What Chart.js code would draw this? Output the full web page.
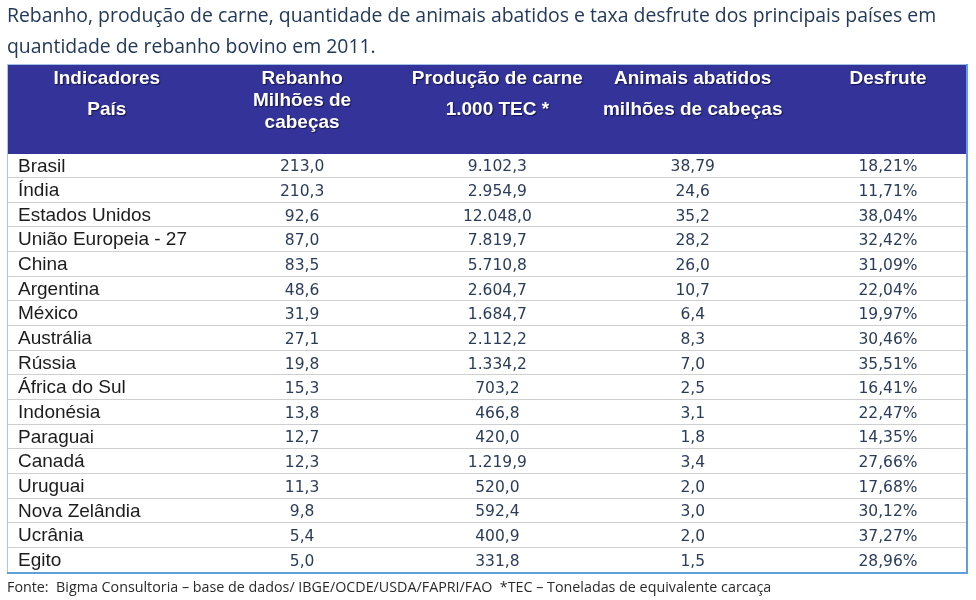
<!DOCTYPE html>
<html>
<head>
<meta charset="utf-8">
<script src="https://cdn.jsdelivr.net/npm/chart.js@4/dist/chart.umd.min.js"></script>
<style>
  body { margin: 0; background: #fff; }
</style>
</head>
<body>
<canvas id="tabela" width="976" height="600"></canvas>
<script>
const titulo = ['Rebanho, produção de carne, quantidade de animais abatidos e taxa desfrute dos principais países em',
  'quantidade de rebanho bovino em 2011.']
const fonte = 'Fonte:  Bigma Consultoria – base de dados/ IBGE/OCDE/USDA/FAPRI/FAO  *TEC – Toneladas de equivalente carcaça'

const cabecalho = [
  ['Indicadores', 'País'],
  ['Rebanho', 'Milhões de', 'cabeças'],
  ['Produção de carne', '1.000 TEC *'],
  ['Animais abatidos', 'milhões de cabeças'],
  ['Desfrute']
]

const paises = ['Brasil', 'Índia', 'Estados Unidos', 'União Europeia - 27', 'China', 'Argentina', 'México',
  'Austrália', 'Rússia', 'África do Sul', 'Indonésia', 'Paraguai', 'Canadá', 'Uruguai', 'Nova Zelândia',
  'Ucrânia', 'Egito']
const rebanho = [213.0, 210.3, 92.6, 87.0, 83.5, 48.6, 31.9, 27.1, 19.8, 15.3, 13.8, 12.7, 12.3, 11.3, 9.8, 5.4, 5.0]
const producao = [9102.3, 2954.9, 12048.0, 7819.7, 5710.8, 2604.7, 1684.7, 2112.2, 1334.2, 703.2, 466.8, 420.0,
  1219.9, 520.0, 592.4, 400.9, 331.8]
const abatidos = [38.79, 24.6, 35.2, 28.2, 26.0, 10.7, 6.4, 8.3, 7.0, 2.5, 3.1, 1.8, 3.4, 2.0, 3.0, 2.0, 1.5]
const desfrute = [18.21, 11.71, 38.04, 32.42, 31.09, 22.04, 19.97, 30.46, 35.51, 16.41, 22.47, 14.35, 27.66,
  17.68, 30.12, 37.27, 28.96]

// formato brasileiro: 12.048,0
function fmt(v, minDec) {
  let s = v.toFixed(2)
  if (minDec < 2 && s.endsWith('0')) s = v.toFixed(1)
  let [inteiro, dec] = s.split('.')
  inteiro = inteiro.replace(/\B(?=(\d{3})+(?!\d))/g, '.')
  return inteiro + ',' + dec
}

const colunas = [
  paises,
  rebanho.map(v => fmt(v, 1)),
  producao.map(v => fmt(v, 1)),
  abatidos.map(v => fmt(v, 1)),
  desfrute.map(v => fmt(v, 2) + '%')
]

const datasets = colunas.map((textos, c) => ({
  label: cabecalho[c][0],
  data: paises.map(p => ({ x: c, y: p })),
  textos,
  pointRadius: 0
}))

function ajustar(ctx, texto, familia, largura) {
  ctx.font = '20px ' + familia
  const w = ctx.measureText(texto).width
  return (20 * largura / w).toFixed(2) + 'px ' + familia
}

const desenhaTabela = {
  id: 'desenhaTabela',
  beforeDatasetsDraw(chart) {
    const { ctx, chartArea: a, scales } = chart
    ctx.save()
    // titulo
    ctx.fillStyle = '#22395a'
    ctx.textBaseline = 'middle'
    ctx.textAlign = 'left'
    ctx.font = ajustar(ctx, titulo[0], '"Open Sans"', 930)
    ctx.fillText(titulo[0], 7, 16)
    ctx.fillText(titulo[1], 7, 47)

    // faixa do cabecalho
    const topo = 64
    ctx.fillStyle = '#333399'
    ctx.fillRect(a.left, topo, a.right - a.left, a.top - topo + 1)
    ctx.strokeStyle = '#9fc0e4'
    ctx.lineWidth = 1
    ctx.beginPath()
    ctx.moveTo(a.left, topo + 0.5)
    ctx.lineTo(a.right, topo + 0.5)
    ctx.stroke()

    ctx.fillStyle = '#ffffff'
    ctx.textAlign = 'center'
    ctx.textBaseline = 'alphabetic'
    ctx.font = 'bold 19px "Liberation Sans", Arial, sans-serif'
    ctx.shadowColor = 'rgba(0,0,30,0.6)'
    ctx.shadowOffsetX = 1
    ctx.shadowOffsetY = 1
    ctx.shadowBlur = 1
    cabecalho.forEach((linhas, c) => {
      const x = scales.x.getPixelForValue(c)
      const passo = linhas.length === 3 ? 22 : 31
      linhas.forEach((t, k) => ctx.fillText(t, x, 84 + k * passo))
    })
    ctx.restore()
  },
  afterDatasetsDraw(chart) {
    const { ctx, chartArea: a } = chart
    ctx.save()
    ctx.textBaseline = 'middle'
    chart.data.datasets.forEach((ds, d) => {
      const meta = chart.getDatasetMeta(d)
      meta.data.forEach((pt, i) => {
        if (d === 0) {
          ctx.textAlign = 'left'
          ctx.fillStyle = '#1c1c1c'
          ctx.font = '19px "Liberation Sans", Arial, sans-serif'
          ctx.fillText(ds.textos[i], a.left + 11, pt.y + 1)
        } else {
          ctx.textAlign = 'center'
          ctx.fillStyle = '#2b3c5a'
          ctx.font = '15.5px "DejaVu Sans", sans-serif'
          ctx.fillText(ds.textos[i], pt.x, pt.y + 2)
        }
      })
    })

    // bordas
    ctx.strokeStyle = '#a8c8ea'
    ctx.lineWidth = 1
    ctx.beginPath()
    ctx.moveTo(a.left + 0.5, 64)
    ctx.lineTo(a.left + 0.5, a.bottom)
    ctx.stroke()
    ctx.strokeStyle = '#5f9fdb'
    ctx.lineWidth = 2
    ctx.beginPath()
    ctx.moveTo(a.right, 64)
    ctx.lineTo(a.right, a.bottom + 1)
    ctx.lineTo(a.left, a.bottom + 1)
    ctx.stroke()

    // fonte
    ctx.fillStyle = '#2a2a2a'
    ctx.textAlign = 'left'
    ctx.font = ajustar(ctx, fonte, '"Open Sans"', 765)
    ctx.fillText(fonte, 7, 588)
    ctx.restore()
  }
}

new Chart(document.getElementById('tabela'), {
  type: 'scatter',
  data: { datasets },
  options: {
    responsive: false,
    animation: false,
    events: [],
    layout: { padding: { left: 7, right: 9, top: 153, bottom: 28 } },
    plugins: { legend: { display: false }, tooltip: { enabled: false } },
    scales: {
      x: { type: 'linear', min: -0.511, max: 4.4045, display: false },
      y: {
        type: 'category',
        labels: paises,
        offset: true,
        display: true,
        ticks: { display: false },
        border: { display: false },
        grid: { offset: true, color: '#cfcfcf', lineWidth: 1, drawTicks: false }
      }
    }
  },
  plugins: [desenhaTabela]
})
</script>
</body>
</html>
